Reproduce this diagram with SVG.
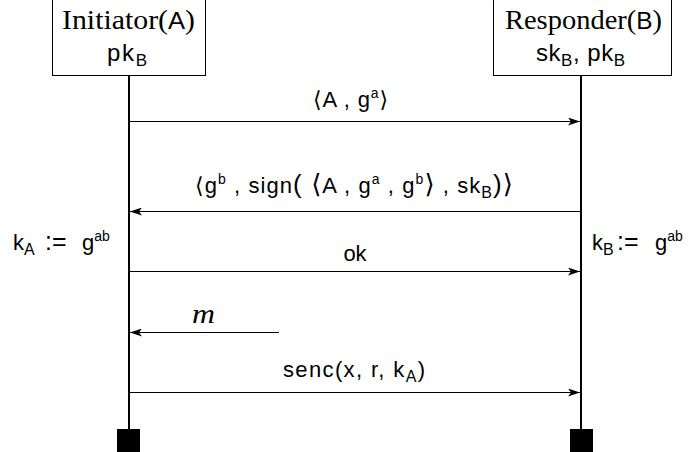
<svg xmlns="http://www.w3.org/2000/svg" width="695" height="452" viewBox="0 0 695 452">
<style>
.box{fill:#fff;stroke:#000;stroke-width:1}
.life{stroke:#000;stroke-width:2}
.msg{stroke:#000;stroke-width:1;fill:none;marker-end:url(#ah)}
.t{font-family:"Liberation Sans","DejaVu Sans",sans-serif;font-size:22px;fill:#000}
.h{font-family:"Liberation Sans","DejaVu Sans",sans-serif;font-size:24px;fill:#000}
.hs{font-family:"Liberation Sans","DejaVu Sans",sans-serif;font-size:24px}
.s{font-family:"Liberation Serif","DejaVu Serif",serif;font-size:28px;fill:#000}
.m{font-family:"Liberation Serif","DejaVu Serif",serif;font-style:italic;font-size:28px;fill:#000}
.sub{font-size:16px}
.hsub{font-size:17px}
.sup{font-size:14px}
</style>
<defs>
<marker id="ah" markerWidth="12" markerHeight="8" refX="12" refY="4" orient="auto" markerUnits="userSpaceOnUse">
<path d="M0,0 L12,4 L0,8 L3,4 Z" fill="#000"/>
</marker>
</defs>
<g id="initiator">
<rect class="box" x="52.5" y="-1" width="153" height="76.5"/>
<text class="s" x="62" y="29" textLength="133" lengthAdjust="spacingAndGlyphs">Initiator(<tspan class="hs">A</tspan>)</text>
<text class="h" x="107" y="61" textLength="40">pk<tspan class="hsub" dy="5">B</tspan></text>
<line class="life" x1="129" y1="76" x2="129" y2="430"/>
<rect x="117" y="429" width="23" height="23" fill="#000"/>
</g>
<g id="responder">
<rect class="box" x="493.5" y="-1" width="178" height="76.5"/>
<text class="s" x="505" y="29" textLength="157" lengthAdjust="spacingAndGlyphs">Responder(<tspan class="hs">B</tspan>)</text>
<text class="h" x="536" y="61" textLength="89">sk<tspan class="hsub" dy="5">B</tspan><tspan dy="-5">, pk</tspan><tspan class="hsub" dy="5">B</tspan></text>
<line class="life" x1="581" y1="76" x2="581" y2="430"/>
<rect x="570" y="429" width="23" height="23" fill="#000"/>
</g>
<g id="ka">
<text class="t" x="13" y="250">k<tspan class="sub" dy="5">A</tspan><tspan x="45" dy="-5" font-size="25">:=</tspan><tspan x="82">g</tspan><tspan class="sup" dy="-9">ab</tspan></text>
</g>
<g id="kb">
<text class="t" x="592" y="250">k<tspan class="sub" dy="5">B</tspan><tspan x="617" dy="-5" font-size="25">:=</tspan><tspan x="655">g</tspan><tspan class="sup" dy="-9">ab</tspan></text>
</g>
<g id="connectors">
<line class="msg" x1="130" y1="121.5" x2="580" y2="121.5"/>
<line class="msg" x1="580" y1="211.5" x2="130" y2="211.5"/>
<line class="msg" x1="130" y1="271.5" x2="580" y2="271.5"/>
<line class="msg" x1="279" y1="332.5" x2="130" y2="332.5"/>
<line class="msg" x1="130" y1="392.5" x2="580" y2="392.5"/>
</g>
<g id="labels">
<text class="t" x="313" y="107" textLength="75" xml:space="preserve">⟨A , g<tspan class="sup" dy="-9">a</tspan><tspan dy="9">⟩</tspan></text>
<text class="t" x="195" y="193" textLength="318" xml:space="preserve">⟨g<tspan class="sup" dy="-9">b</tspan><tspan dy="9"> , sign</tspan><tspan font-size="26">( ⟨</tspan>A , g<tspan class="sup" dy="-9">a</tspan><tspan dy="9"> , g</tspan><tspan class="sup" dy="-9">b</tspan><tspan dy="9" font-size="26">⟩</tspan><tspan> , sk</tspan><tspan class="sub" dy="5">B</tspan><tspan dy="-5" font-size="26">)⟩</tspan></text>
<text class="t" x="355" y="261" text-anchor="middle">ok</text>
<text class="m" x="192" y="323" textLength="23" lengthAdjust="spacingAndGlyphs">m</text>
<text class="t" x="283" y="377" textLength="142">senc(x, r, k<tspan class="sub" dy="5">A</tspan><tspan dy="-5">)</tspan></text>
</g>
</svg>
